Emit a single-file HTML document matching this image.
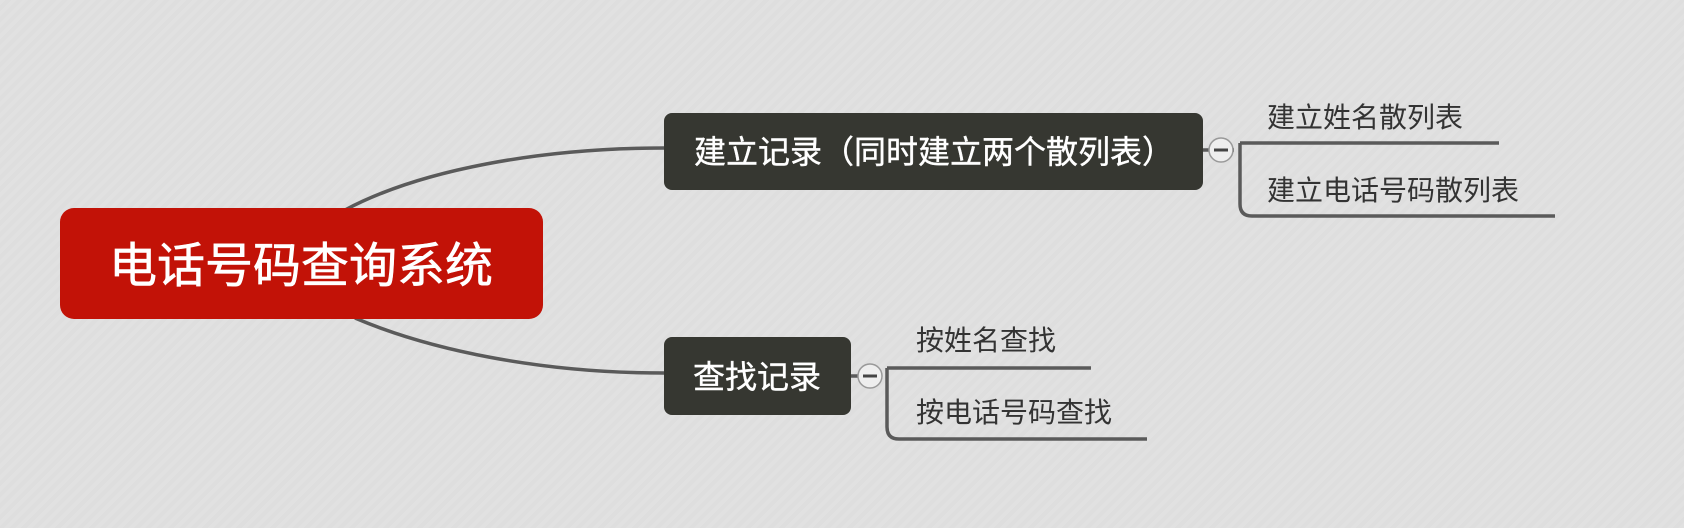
<!DOCTYPE html>
<html><head><meta charset="utf-8"><style>
html,body{margin:0;padding:0;width:1684px;height:528px;overflow:hidden;background:#dedede;}
svg{display:block}
text{font-family:"Liberation Sans","Noto Sans CJK SC",sans-serif;}
</style></head><body>
<svg width="1684" height="528" viewBox="0 0 1684 528" xmlns="http://www.w3.org/2000/svg">
<defs>
<pattern id="p" width="8" height="8" patternUnits="userSpaceOnUse" patternTransform="rotate(45)">
<rect width="8" height="8" fill="#dedede"/><rect width="4" height="8" fill="#e1e1e1"/>
</pattern>
</defs>
<rect width="1684" height="528" fill="url(#p)"/>
<g fill="none" stroke="#5a5a5a" stroke-width="3.5">
<path d="M345 210 C 420 170, 540 148, 664 148"/>
<path d="M355 318 C 430 350, 540 373, 664 373"/>
<path d="M1203 150 H1234"/>
<path d="M1240 143 H1499"/>
<path d="M1240 143 V204 Q1240 216 1252 216 H1555"/>
<path d="M851 376 H882"/>
<path d="M887 368 H1091"/>
<path d="M887 368 V427 Q887 439 899 439 H1147"/>
</g>
<rect x="60" y="208" width="483" height="111" rx="14" fill="#c21207"/>
<text x="301" y="282" font-size="48" fill="#fff" text-anchor="middle" stroke="#fff" stroke-width="0.6">电话号码查询系统</text>
<rect x="664" y="113" width="539" height="77" rx="8" fill="#363731"/>
<text x="694" y="163" font-size="32" fill="#fff" stroke="#fff" stroke-width="0.4">建立记录（同时建立两个散列表）</text>
<rect x="664" y="337" width="187" height="78" rx="8" fill="#363731"/>
<text x="757" y="388" font-size="32" fill="#fff" text-anchor="middle" stroke="#fff" stroke-width="0.4">查找记录</text>
<g fill="#eee" stroke="#999" stroke-width="1.5">
<circle cx="1221" cy="150" r="12"/>
<circle cx="870" cy="376" r="12"/>
</g>
<g stroke="#444" stroke-width="3">
<path d="M1214 150 H1228"/>
<path d="M863 376 H877"/>
</g>
<g font-size="28" fill="#333">
<text x="1267" y="127">建立姓名散列表</text>
<text x="1267" y="200">建立电话号码散列表</text>
<text x="916" y="350">按姓名查找</text>
<text x="916" y="422">按电话号码查找</text>
</g>
</svg>
</body></html>
